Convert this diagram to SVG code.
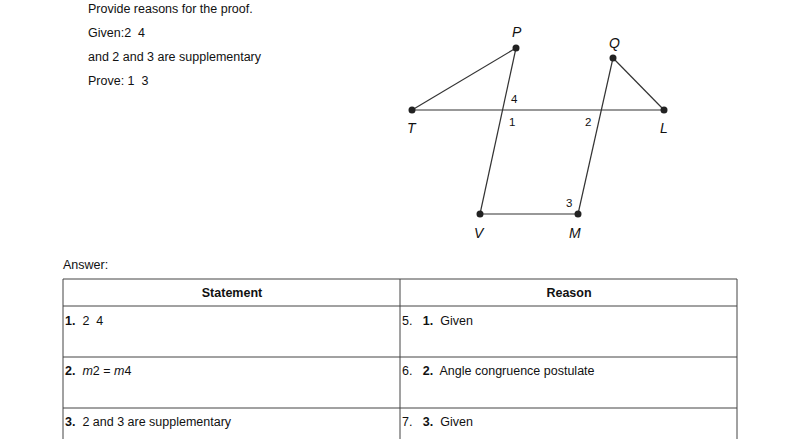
<svg xmlns="http://www.w3.org/2000/svg" width="798" height="439" viewBox="0 0 798 439">
<style>
text{font-family:"Liberation Sans",Arial,sans-serif;font-size:12.5px;fill:#111;white-space:pre}
.g{stroke:#333;stroke-width:1.2;fill:none}
.d{fill:#222}
.l{font-size:14px;font-style:italic}
.s{font-size:11.5px}
.t{stroke:#444;stroke-width:1;fill:none}
.b{font-weight:bold}
</style>
<rect width="798" height="439" fill="#fff"/>
<text x="88" y="13">Provide reasons for the proof.</text>
<text x="88" y="37" xml:space="preserve">Given:2  4</text>
<text x="88" y="61">and 2 and 3 are supplementary</text>
<text x="88" y="85" xml:space="preserve">Prove: 1  3</text>
<g id="connectors">
<line class="g" x1="412" y1="110" x2="664" y2="110"/>
<line class="g" x1="412" y1="110" x2="516" y2="48"/>
<line class="g" x1="516" y1="48" x2="480" y2="214"/>
<line class="g" x1="480" y1="214" x2="578" y2="214"/>
<line class="g" x1="578" y1="214" x2="613" y2="58"/>
<line class="g" x1="613" y1="58" x2="664" y2="110"/>
</g>
<g id="P"><circle class="d" cx="516" cy="48" r="3.5"/><text class="l" x="512" y="37">P</text></g>
<g id="Q"><circle class="d" cx="613" cy="58" r="3.5"/><text class="l" x="609" y="48">Q</text></g>
<g id="T"><circle class="d" cx="412" cy="110" r="3.5"/><text class="l" x="407" y="133">T</text></g>
<g id="L"><circle class="d" cx="664" cy="110" r="3.5"/><text class="l" x="660" y="133">L</text></g>
<g id="V"><circle class="d" cx="480" cy="214" r="3.5"/><text class="l" x="474" y="238">V</text></g>
<g id="M"><circle class="d" cx="578" cy="214" r="3.5"/><text class="l" x="569" y="238">M</text></g>
<text class="s" x="511" y="103">4</text>
<text class="s" x="509" y="126">1</text>
<text class="s" x="585" y="126">2</text>
<text class="s" x="566" y="207">3</text>
<text x="63" y="269">Answer:</text>
<g id="table">
<path class="t" d="M63 439V279H737V439M63 306H737M63 357H737M63 408H737M400 279V439"/>
<text class="b" x="232" y="297" text-anchor="middle">Statement</text>
<text class="b" x="569" y="297" text-anchor="middle">Reason</text>
<text x="65" y="325" xml:space="preserve"><tspan class="b">1.</tspan>  2  4</text>
<text x="65" y="375" xml:space="preserve"><tspan class="b">2.</tspan>  <tspan font-style="italic">m</tspan>2 = <tspan font-style="italic">m</tspan>4</text>
<text x="65" y="426" xml:space="preserve"><tspan class="b">3.</tspan>  2 and 3 are supplementary</text>
<text x="402" y="325" xml:space="preserve">5.   <tspan class="b">1.</tspan>  Given</text>
<text x="402" y="375" xml:space="preserve">6.   <tspan class="b">2.</tspan>  Angle congruence postulate</text>
<text x="402" y="426" xml:space="preserve">7.   <tspan class="b">3.</tspan>  Given</text>
</g>
</svg>
